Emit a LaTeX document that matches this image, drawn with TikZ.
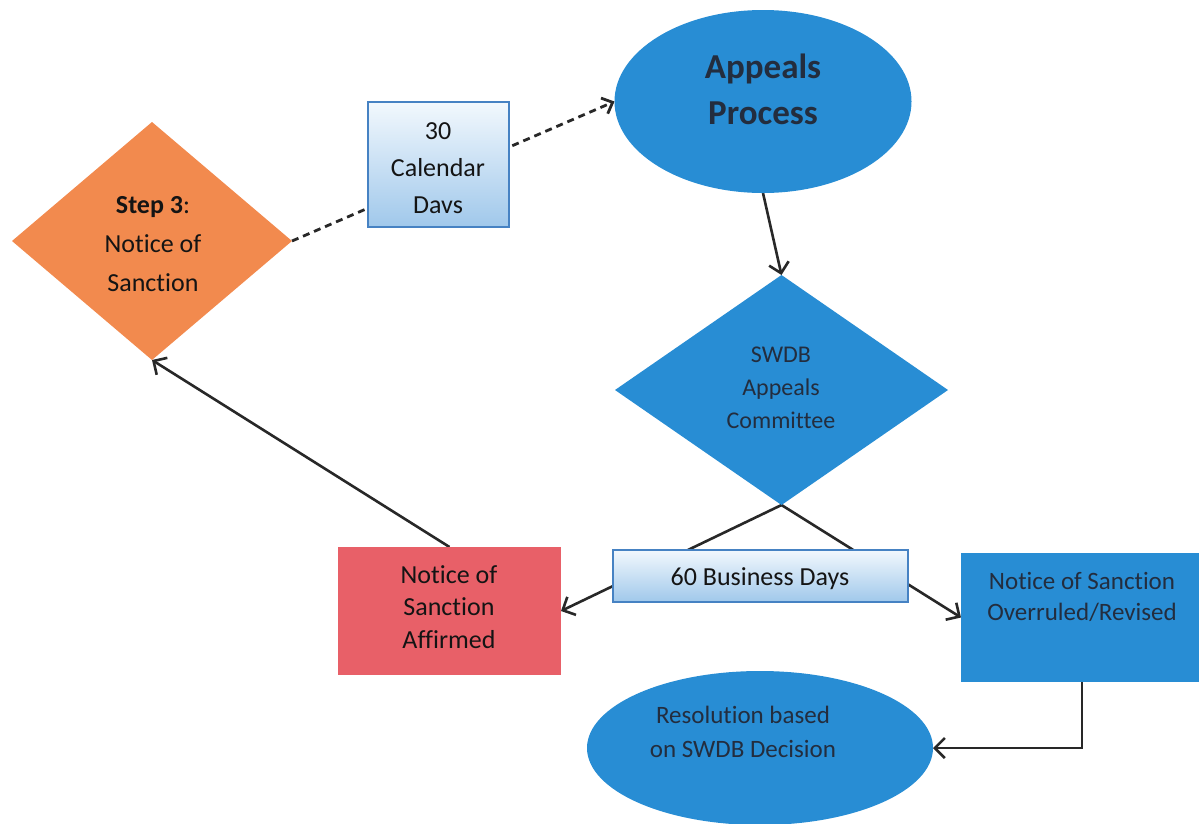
\documentclass[tikz,border=0pt]{standalone}
\usepackage{fontspec}
\setmainfont{Carlito}[Ligatures=NoCommon]
\usetikzlibrary{shapes.geometric,arrows.meta,backgrounds}
\definecolor{orng}{RGB}{242,138,78}
\definecolor{rbox}{RGB}{232,96,104}
\definecolor{bshape}{RGB}{40,141,212}
\definecolor{lbtop}{RGB}{242,248,253}
\definecolor{lbbot}{RGB}{160,200,235}
\definecolor{lbline}{RGB}{70,130,195}
\definecolor{ink}{RGB}{20,20,20}
\definecolor{bink}{RGB}{35,45,62}
\definecolor{conn}{RGB}{40,40,40}
\begin{document}
\begin{tikzpicture}[x=1pt,y=-1pt,
  every node/.style={inner sep=0pt, outer sep=0pt},
  txt/.style={align=center, text=ink},
  btxt/.style={align=center, text=bink},
  lbox/.style={draw=lbline, line width=1.8pt, top color=lbtop, bottom color=lbbot},
  conn/.style={draw=conn, line width=2.6pt, -{Straight Barb[length=10pt,width=20pt]}},
  dconn/.style={draw=conn, line width=2.8pt, dash pattern=on 7pt off 5pt, -{Straight Barb[length=9pt,width=17pt]}}
]
\useasboundingbox (0,0) rectangle (1199,823);

% shapes
\node[diamond, fill=orng, minimum width=280pt, minimum height=238pt] (s3) at (152,241) {};
\node[lbox, minimum width=141pt, minimum height=125pt] (cal) at (438.5,164.5) {};
\node[ellipse, fill=bshape, minimum width=297pt, minimum height=183pt] (ap) at (763,101.5) {};
\node[diamond, fill=bshape, minimum width=333pt, minimum height=230pt] (swdb) at (781.5,390) {};
\node[rectangle, fill=rbox, minimum width=223pt, minimum height=128pt] (aff) at (449.5,611) {};
\node[rectangle, fill=bshape, minimum width=242pt, minimum height=129pt] (ovr) at (1082,617.5) {};
\node[lbox, minimum width=295pt, minimum height=52pt] (bd) at (760.5,576) {};
\node[ellipse, fill=bshape, minimum width=346pt, minimum height=154pt] (res) at (760,748) {};

% texts
\node[txt, font=\fontsize{26}{39}\selectfont] (s3t) at (153,244) {\textbf{Step 3}:\\Notice of\\Sanction};
\node[txt, font=\fontsize{26}{37}\selectfont] (calt) at (438,168) {30\\Calendar\\Davs};
\node[btxt, font=\fontsize{35}{46}\selectfont\bfseries] (apt) at (763,89) {Appeals\\Process};
\node[btxt, font=\fontsize{24}{33}\selectfont] (swdbt) at (781,388) {SWDB\\Appeals\\Committee};
\node[txt, font=\fontsize{26}{32.5}\selectfont] (afft) at (449,607) {Notice of\\Sanction\\Affirmed};
\node[txt, font=\fontsize{26}{31}\selectfont] (bdt) at (760,579) {60 Business Days};
\node[btxt, font=\fontsize{25}{31}\selectfont] (ovrt) at (1082,597) {Notice of Sanction\\Overruled/Revised};
\node[btxt, font=\fontsize{25}{34}\selectfont] (rest) at (743,732) {Resolution based\\on SWDB Decision};

% connectors
\begin{pgfonlayer}{background}
\draw[dconn] (s3.east) -- (ap.west);
\draw[conn] (ap.south) -- (swdb.north);
\draw[conn] (swdb.south) -- (aff.east);
\draw[conn] (swdb.south) -- (ovr.west);
\draw[conn] (aff.north) -- (s3.south);
\draw[conn] (ovr.south) |- (res.east);
\end{pgfonlayer}
\end{tikzpicture}
\end{document}
